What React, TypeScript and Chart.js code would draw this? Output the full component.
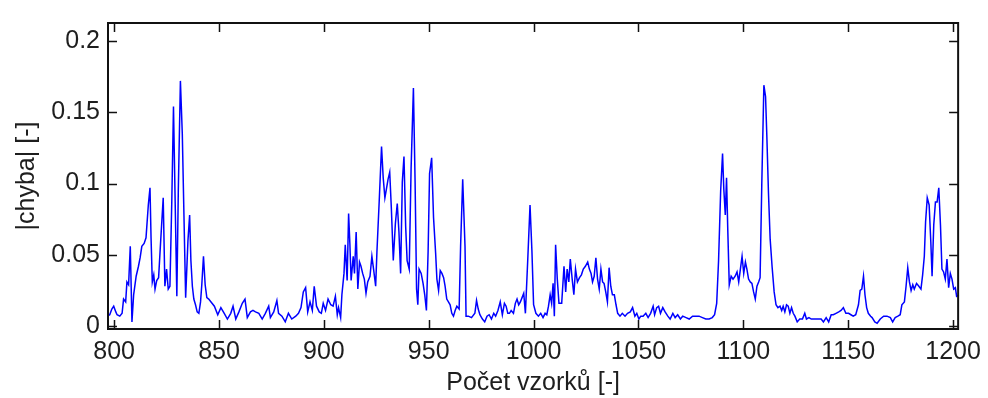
import React, { useEffect, useRef } from "react";
import { Chart, registerables } from "chart.js";

Chart.register(...registerables);

// sample index (x) and |error| value (y)
const sampleX = [
  796.8, 797.9, 798.9, 799.8, 800.8, 801.4, 802.7, 803.8, 804.5, 805.5, 806.1, 806.9, 807.7, 808.5, 809.3,
  810.5, 811.6, 812.4, 813.2, 814.3, 815.2, 816.3, 817.1, 817.6, 818.2, 818.9, 819.5, 820.3, 821.2, 822.2,
  823.4, 824.2, 825.0, 825.8, 826.6, 827.5, 828.3, 829.1, 829.9, 830.6, 831.6, 832.5, 833.3, 834.1, 835.2,
  836.0, 836.6, 837.3, 838.0, 838.8, 839.6, 840.4, 841.2, 841.8, 842.6, 843.4, 844.2, 845.1, 846.2, 847.8,
  849.4, 850.9, 852.5, 854.0, 855.6, 856.7, 858.0, 859.5, 861.1, 862.4, 863.5, 865.0, 866.2, 867.4, 869.0,
  870.6, 872.1, 873.7, 874.5, 876.1, 877.6, 878.4, 880.0, 881.6, 883.1, 884.7, 886.6, 887.9, 889.1, 890.2,
  891.3, 892.3, 893.4, 894.5, 895.4, 896.5, 897.8, 898.8, 899.7, 900.8, 902.0, 903.3, 904.4, 905.5, 906.4,
  907.0, 908.0, 908.6, 909.6, 910.2, 911.1, 911.8, 912.4, 913.0, 914.0, 914.6, 915.4, 916.2, 917.0, 917.7,
  918.5, 919.3, 920.1, 920.9, 922.0, 922.9, 923.7, 924.7, 925.3, 926.4, 927.5, 928.3, 929.1, 929.8, 930.6,
  931.4, 932.2, 933.1, 934.1, 935.0, 935.8, 936.6, 937.4, 938.2, 939.0, 939.7, 940.7, 941.6, 942.7, 943.5,
  944.2, 944.8, 945.4, 946.4, 947.3, 948.1, 948.9, 949.7, 950.4, 951.4, 952.3, 953.3, 953.9, 954.7, 955.5,
  956.3, 957.1, 957.8, 958.6, 959.4, 960.2, 961.0, 961.8, 962.6, 963.4, 964.5, 965.2, 966.2, 967.3, 967.8,
  968.9, 970.4, 972.0, 972.8, 973.6, 974.4, 975.6, 976.7, 977.8, 978.8, 979.9, 981.0, 981.9, 983.0, 984.1,
  985.1, 986.1, 986.9, 987.7, 988.5, 989.3, 990.4, 991.3, 992.1, 992.9, 993.7, 994.5, 995.3, 996.1, 997.2,
  998.3, 999.2, 1000.0, 1001.1, 1002.3, 1003.4, 1004.5, 1005.5, 1006.3, 1007.1, 1007.9, 1008.6, 1009.3, 1009.9, 1010.5,
  1011.3, 1012.1, 1013.4, 1014.5, 1015.3, 1016.0, 1016.8, 1017.5, 1018.4, 1019.2, 1020.0, 1020.9, 1021.9, 1022.8, 1023.7,
  1024.7, 1025.8, 1026.6, 1027.4, 1028.1, 1028.9, 1029.7, 1030.5, 1031.3, 1032.1, 1032.9, 1033.6, 1034.4, 1035.2, 1036.0,
  1036.8, 1037.6, 1038.5, 1039.3, 1040.1, 1041.2, 1042.3, 1043.6, 1044.8, 1046.1, 1047.2, 1048.3, 1049.2, 1050.2, 1051.1,
  1052.2, 1053.5, 1054.6, 1055.8, 1057.0, 1057.7, 1058.7, 1059.6, 1060.5, 1061.6, 1062.7, 1064.0, 1065.1, 1066.4, 1067.5,
  1068.7, 1070.0, 1071.1, 1072.7, 1074.2, 1075.8, 1077.4, 1078.9, 1080.5, 1082.1, 1083.7, 1085.2, 1086.3, 1087.3, 1088.2,
  1089.2, 1090.1, 1090.7, 1091.4, 1092.0, 1092.6, 1093.3, 1094.2, 1095.1, 1096.1, 1097.0, 1097.8, 1098.6, 1099.4, 1100.2,
  1101.0, 1101.7, 1102.5, 1103.3, 1104.1, 1104.9, 1105.7, 1106.5, 1107.3, 1108.0, 1108.8, 1109.8, 1110.6, 1111.2, 1112.0,
  1112.8, 1113.7, 1114.7, 1115.6, 1116.5, 1117.5, 1118.3, 1119.0, 1119.8, 1120.6, 1121.4, 1122.2, 1123.0, 1123.8, 1124.6,
  1125.7, 1126.9, 1128.2, 1129.3, 1130.1, 1131.3, 1132.4, 1134.0, 1135.6, 1137.1, 1138.2, 1139.5, 1140.7, 1141.9, 1142.9,
  1144.2, 1145.5, 1146.6, 1147.7, 1148.9, 1150.2, 1151.3, 1152.4, 1153.6, 1154.9, 1155.7, 1156.5, 1157.3, 1158.0, 1158.8,
  1159.6, 1160.7, 1161.4, 1162.7, 1163.8, 1165.3, 1166.9, 1168.5, 1170.1, 1171.2, 1172.4, 1173.7, 1174.8, 1175.6, 1176.8,
  1177.6, 1178.4, 1179.2, 1180.0, 1180.8, 1181.5, 1182.6, 1183.7, 1184.7, 1185.5, 1186.3, 1186.9, 1187.7, 1188.6, 1189.4,
  1190.0, 1190.8, 1191.6, 1192.4, 1193.2, 1194.0, 1194.7, 1195.5, 1196.3, 1197.1, 1197.9, 1198.7, 1199.5, 1200.3, 1201.1,
  1201.7, 1202.9,
];

const errorAbs = [
  0.007, 0.008, 0.012, 0.014, 0.010, 0.008, 0.007, 0.009, 0.019, 0.017, 0.031, 0.029, 0.056, 0.003, 0.022,
  0.035, 0.042, 0.048, 0.056, 0.058, 0.062, 0.085, 0.097, 0.062, 0.031, 0.036, 0.026, 0.032, 0.034, 0.060,
  0.090, 0.028, 0.040, 0.026, 0.028, 0.088, 0.154, 0.087, 0.021, 0.095, 0.172, 0.135, 0.077, 0.020, 0.060,
  0.078, 0.046, 0.028, 0.019, 0.015, 0.010, 0.009, 0.017, 0.029, 0.049, 0.029, 0.020, 0.019, 0.017, 0.014,
  0.008, 0.013, 0.009, 0.005, 0.009, 0.014, 0.005, 0.010, 0.016, 0.019, 0.006, 0.010, 0.011, 0.010, 0.009,
  0.005, 0.009, 0.014, 0.006, 0.010, 0.018, 0.009, 0.007, 0.003, 0.009, 0.005, 0.007, 0.009, 0.013, 0.024,
  0.027, 0.010, 0.017, 0.011, 0.028, 0.014, 0.010, 0.009, 0.016, 0.011, 0.019, 0.015, 0.014, 0.021, 0.008,
  0.013, 0.006, 0.022, 0.037, 0.057, 0.032, 0.079, 0.058, 0.032, 0.049, 0.037, 0.066, 0.026, 0.045, 0.042,
  0.037, 0.033, 0.023, 0.031, 0.035, 0.049, 0.040, 0.028, 0.052, 0.088, 0.126, 0.104, 0.090, 0.096, 0.103,
  0.108, 0.082, 0.046, 0.072, 0.086, 0.066, 0.037, 0.101, 0.119, 0.070, 0.046, 0.040, 0.111, 0.167, 0.101,
  0.026, 0.015, 0.040, 0.037, 0.030, 0.022, 0.011, 0.052, 0.107, 0.118, 0.076, 0.051, 0.033, 0.025, 0.039,
  0.037, 0.034, 0.028, 0.019, 0.017, 0.015, 0.009, 0.007, 0.011, 0.014, 0.012, 0.056, 0.103, 0.056, 0.007,
  0.007, 0.006, 0.009, 0.018, 0.012, 0.008, 0.005, 0.003, 0.007, 0.008, 0.005, 0.009, 0.007, 0.011, 0.017,
  0.008, 0.016, 0.014, 0.009, 0.009, 0.011, 0.009, 0.016, 0.019, 0.015, 0.017, 0.020, 0.023, 0.009, 0.046,
  0.085, 0.053, 0.015, 0.009, 0.007, 0.009, 0.006, 0.009, 0.008, 0.014, 0.022, 0.016, 0.030, 0.007, 0.057,
  0.033, 0.016, 0.016, 0.042, 0.024, 0.040, 0.031, 0.047, 0.033, 0.022, 0.040, 0.031, 0.034, 0.036, 0.040,
  0.042, 0.045, 0.040, 0.037, 0.031, 0.035, 0.048, 0.033, 0.026, 0.040, 0.031, 0.030, 0.024, 0.017, 0.041,
  0.028, 0.022, 0.022, 0.015, 0.009, 0.007, 0.009, 0.007, 0.009, 0.010, 0.013, 0.007, 0.009, 0.005, 0.007,
  0.007, 0.009, 0.006, 0.009, 0.014, 0.008, 0.013, 0.014, 0.009, 0.013, 0.010, 0.007, 0.005, 0.009, 0.006,
  0.008, 0.005, 0.007, 0.006, 0.005, 0.007, 0.007, 0.007, 0.006, 0.005, 0.005, 0.006, 0.008, 0.016, 0.046,
  0.095, 0.121, 0.096, 0.078, 0.104, 0.067, 0.029, 0.035, 0.033, 0.035, 0.038, 0.031, 0.040, 0.049, 0.037,
  0.045, 0.040, 0.033, 0.031, 0.030, 0.024, 0.019, 0.028, 0.031, 0.034, 0.099, 0.169, 0.161, 0.134, 0.093,
  0.061, 0.042, 0.024, 0.015, 0.013, 0.014, 0.011, 0.014, 0.010, 0.015, 0.014, 0.009, 0.013, 0.009, 0.007,
  0.003, 0.005, 0.005, 0.009, 0.005, 0.006, 0.005, 0.005, 0.005, 0.005, 0.003, 0.006, 0.003, 0.008, 0.008,
  0.009, 0.010, 0.011, 0.013, 0.009, 0.009, 0.008, 0.007, 0.008, 0.015, 0.025, 0.026, 0.035, 0.022, 0.013,
  0.009, 0.007, 0.006, 0.003, 0.002, 0.005, 0.007, 0.007, 0.006, 0.003, 0.006, 0.007, 0.008, 0.015, 0.017,
  0.028, 0.041, 0.031, 0.025, 0.029, 0.026, 0.030, 0.028, 0.026, 0.036, 0.049, 0.073, 0.090, 0.085, 0.059,
  0.035, 0.071, 0.087, 0.087, 0.097, 0.071, 0.040, 0.038, 0.033, 0.047, 0.027, 0.037, 0.033, 0.026, 0.027,
  0.021, 0.022,
];

const xTickValues = [800, 850, 900, 950, 1000, 1050, 1100, 1150, 1200];
const yTickValues = [0, 0.05, 0.1, 0.15, 0.2];

const xTitle = "Počet vzorků [-]";
const yTitle = "|chyba| [-]";

const FONT = "'Liberation Sans', Arial, Helvetica, sans-serif";
const TEXT = "#1e1e1e";
const TICK_LEN = 9;

const boxPlugin = {
  id: "matlabBox",
  afterDraw(chart: any) {
    const { ctx, chartArea: a, scales } = chart;
    ctx.save();
    ctx.strokeStyle = "#111";
    ctx.lineWidth = 1.5;
    ctx.beginPath();
    scales.x.ticks.forEach((t: any) => {
      const px = Math.round(scales.x.getPixelForValue(t.value)) + 0.5;
      ctx.moveTo(px, a.bottom - 1);
      ctx.lineTo(px, a.bottom - 1 - TICK_LEN);
      ctx.moveTo(px, a.top + 1);
      ctx.lineTo(px, a.top + 1 + TICK_LEN);
    });
    scales.y.ticks.forEach((t: any) => {
      const py = Math.round(scales.y.getPixelForValue(t.value)) + 0.5;
      ctx.moveTo(a.left + 1, py);
      ctx.lineTo(a.left + 1 + TICK_LEN, py);
      ctx.moveTo(a.right - 1, py);
      ctx.lineTo(a.right - 1 - TICK_LEN, py);
    });
    ctx.stroke();
    ctx.lineWidth = 2;
    ctx.strokeRect(a.left + 1, a.top + 1, a.right - a.left - 2, a.bottom - a.top - 2);
    ctx.restore();
  },
};

export default function App() {
  const canvasRef = useRef<HTMLCanvasElement | null>(null);

  useEffect(() => {
    const canvas = canvasRef.current;
    if (!canvas) return;
    const points = sampleX.map((x, i) => ({ x, y: errorAbs[i] }));
    const chart = new Chart(canvas, {
      type: "line",
      data: {
        datasets: [
          {
            data: points,
            borderColor: "#0000ff",
            borderWidth: 1.5,
            pointRadius: 0,
            tension: 0,
            fill: false,
          },
        ],
      },
      plugins: [boxPlugin],
      options: {
        animation: false,
        responsive: false,
        maintainAspectRatio: false,
        layout: { padding: { left: 0, right: 20, top: 11, bottom: 0 } },
        plugins: { legend: { display: false }, tooltip: { enabled: false } },
        scales: {
          x: {
            type: "linear",
            min: 796.6,
            max: 1202.9,
            afterBuildTicks: (s: any) => {
              s.ticks = xTickValues.map((v) => ({ value: v }));
            },
            afterFit: (s: any) => {
              s.height = 68;
            },
            grid: { display: false, drawTicks: false },
            border: { display: false },
            ticks: {
              autoSkip: false,
              maxRotation: 0,
              padding: 7,
              color: TEXT,
              font: { family: FONT, size: 25 },
              callback: (v: any) => String(v),
            },
            title: {
              display: true,
              text: xTitle,
              color: TEXT,
              font: { family: FONT, size: 25 },
              padding: { top: 0, bottom: 0 },
            },
          },
          y: {
            type: "linear",
            min: -0.0027,
            max: 0.2133,
            afterBuildTicks: (s: any) => {
              s.ticks = yTickValues.map((v) => ({ value: v }));
            },
            afterFit: (s: any) => {
              s.width = 107;
            },
            grid: { display: false, drawTicks: false },
            border: { display: false },
            ticks: {
              padding: 7,
              color: TEXT,
              font: { family: FONT, size: 25 },
              callback: (v: any) => String(v),
            },
            title: {
              display: true,
              text: yTitle,
              color: TEXT,
              font: { family: FONT, size: 25 },
              padding: { top: 12, bottom: 0 },
            },
          },
        },
      },
    });
    return () => chart.destroy();
  }, []);

  return (
    <div style={{ position: "absolute", left: 0, top: 0, width: 988, height: 398, background: "#fff" }}>
      <canvas ref={canvasRef} width={988} height={398} style={{ display: "block" }} />
    </div>
  );
}
